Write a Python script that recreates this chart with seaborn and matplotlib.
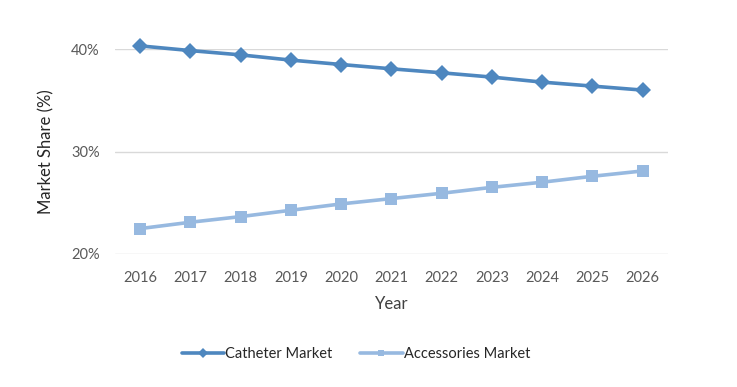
import pandas as pd
import matplotlib.pyplot as plt
import seaborn as sns
from matplotlib.ticker import PercentFormatter

years = [2016, 2017, 2018, 2019, 2020, 2021, 2022, 2023, 2024, 2025, 2026]
catheter = [40.32, 39.86, 39.44, 38.93, 38.50, 38.08, 37.69, 37.27, 36.78, 36.39, 36.00]
accessories = [22.47, 23.09, 23.64, 24.26, 24.88, 25.40, 25.92, 26.50, 27.00, 27.58, 28.10]
series_names = ["Catheter Market", "Accessories Market"]

df = pd.DataFrame({
    "Year": [str(y) for y in years] * 2,
    "Share": catheter + accessories,
    "Series": [series_names[0]] * len(years) + [series_names[1]] * len(years),
})

sns.set_style("white")
plt.rcParams["font.family"] = ["Lato", "DejaVu Sans"]

fig = plt.figure(figsize=(7.37, 3.87), dpi=100)
ax = fig.add_axes([0.156, 0.344, 0.750, 0.529])

palette = {series_names[0]: "#4E87BF", series_names[1]: "#97B9E0"}
sns.lineplot(data=df, x="Year", y="Share", hue="Series", style="Series",
             markers={series_names[0]: "D", series_names[1]: "s"},
             dashes=False, palette=palette, linewidth=2.6, markersize=8,
             markeredgewidth=0, ax=ax, clip_on=False, sort=False)

ax.set_xlim(-0.5, len(years) - 0.5)
ax.set_ylim(20, 40)
ax.set_yticks([20, 30, 40])
ax.yaxis.set_major_formatter(PercentFormatter(decimals=0))
ax.grid(axis="y", color="#D9D9D9", linewidth=1)
ax.set_axisbelow(True)
for s in ax.spines.values():
    s.set_visible(False)
ax.tick_params(axis="both", length=0, labelsize=10.5, labelcolor="#595959")
ax.tick_params(axis="x", pad=12)
ax.tick_params(axis="y", pad=11)

ax.set_xlabel("Year", fontsize=12, color="#404040", labelpad=8)
ax.set_ylabel("Market Share (%)", fontsize=12, color="#262626", labelpad=12)

handles, labels = ax.get_legend_handles_labels()
leg = ax.legend(handles, labels, loc="upper center", bbox_to_anchor=(0.436, -0.39),
                ncol=2, frameon=False, fontsize=10.5, handlelength=2.9,
                handletextpad=0.1, columnspacing=1.9, labelcolor="#262626")
for h in leg.get_lines():
    h.set_markersize(5)

fig.savefig("out.png", dpi=100)
